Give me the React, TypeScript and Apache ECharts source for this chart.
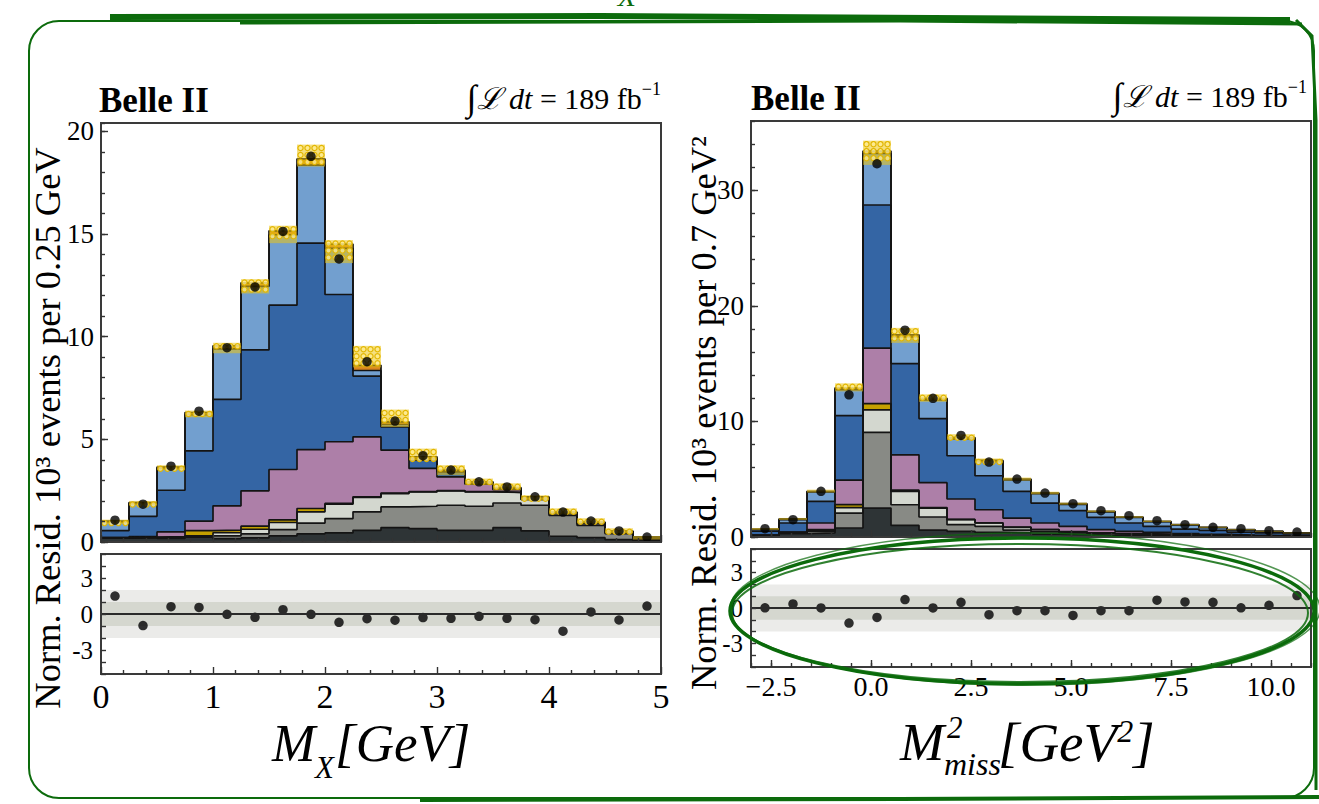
import React, { useEffect, useRef } from 'react';
import * as echarts from 'echarts';

const SERIF = '"Liberation Serif", "DejaVu Serif", "Times New Roman", serif';
const GREEN = '#0c6b0c';

// ---------- Left panel: M_X, 20 bins of 0.25 GeV ----------
const LEFT_EDGES = [0, 0.25, 0.5, 0.75, 1, 1.25, 1.5, 1.75, 2, 2.25, 2.5, 2.75, 3, 3.25, 3.5, 3.75, 4, 4.25, 4.5, 4.75, 5];
// cumulative upper edges of each stacked component (bottom -> top)
const LEFT_CHARCOAL = [0.2, 0.22, 0.18, 0.24, 0.16, 0.2, 0.3, 0.4, 0.44, 0.57, 0.7, 0.65, 0.57, 0.57, 0.7, 0.54, 0.28, 0.21, 0.12, 0.05];
const LEFT_GRAY = [0.2, 0.22, 0.2, 0.26, 0.3, 0.4, 0.6, 0.92, 1.14, 1.47, 1.71, 1.74, 1.79, 1.74, 1.9, 1.79, 1.3, 0.81, 0.41, 0.13];
const LEFT_LGRAY = [0.2, 0.22, 0.22, 0.3, 0.45, 0.62, 0.95, 1.47, 1.84, 2.17, 2.36, 2.44, 2.49, 2.44, 2.41, 2.07, 1.38, 0.9, 0.48, 0.2];
const LEFT_GOLD = [0.21, 0.24, 0.26, 0.55, 0.58, 0.77, 1.08, 1.63, 1.88, 2.2, 2.38, 2.45, 2.5, 2.45, 2.42, 2.08, 1.39, 0.9, 0.48, 0.2];
const LEFT_PINK = [0.21, 0.26, 0.49, 1.02, 1.76, 2.49, 3.53, 4.5, 4.88, 5.12, 4.47, 3.58, 3.17, 2.82, 2.55, 2.12, 1.4, 0.91, 0.49, 0.21];
const LEFT_DBLUE = [0.55, 1.25, 2.52, 4.44, 6.94, 9.35, 11.53, 14.55, 12.05, 8.08, 5.6, 3.98, 3.41, 2.85, 2.57, 2.13, 1.41, 0.92, 0.5, 0.22];
const LEFT_LBLUE = [0.98, 1.87, 3.58, 6.2, 9.4, 12.45, 14.95, 18.35, 14.3, 8.35, 5.72, 4.05, 3.45, 2.88, 2.6, 2.15, 1.43, 0.94, 0.51, 0.23];
const LEFT_TOP = [1.02, 1.92, 3.65, 6.3, 9.55, 12.62, 15.15, 18.65, 14.5, 8.6, 5.85, 4.15, 3.5, 2.93, 2.65, 2.2, 1.46, 0.97, 0.53, 0.24];
const LEFT_BAND_LO = [0.9, 1.79, 3.5, 6.07, 9.19, 12.1, 14.55, 18.28, 13.58, 8.5, 5.6, 3.98, 3.25, 2.77, 2.52, 2.03, 1.35, 0.91, 0.42, 0.12];
const LEFT_BAND_HI = [1.09, 2.0, 3.74, 6.4, 9.7, 12.8, 15.4, 19.35, 14.7, 9.55, 6.45, 4.55, 3.74, 3.09, 2.86, 2.28, 1.64, 1.16, 0.67, 0.29];
const LEFT_DATA = [1.06, 1.84, 3.69, 6.37, 9.46, 12.42, 15.12, 18.78, 13.78, 8.78, 5.89, 4.2, 3.5, 2.93, 2.68, 2.2, 1.46, 1.02, 0.54, 0.24];
const LEFT_RESID = [1.49, -0.96, 0.61, 0.55, -0.03, -0.28, 0.36, -0.03, -0.69, -0.39, -0.52, -0.3, -0.36, -0.19, -0.36, -0.47, -1.43, 0.17, -0.5, 0.66];

// ---------- Right panel: M_miss^2, 20 bins of 0.7 GeV^2 ----------
const RIGHT_EDGES = [-3, -2.3, -1.6, -0.9, -0.2, 0.5, 1.2, 1.9, 2.6, 3.3, 4.0, 4.7, 5.4, 6.1, 6.8, 7.5, 8.2, 8.9, 9.6, 10.3, 11.0];
const RIGHT_CHARCOAL = [0.1, 0.3, 0.35, 0.78, 2.5, 1.0, 0.6, 0.49, 0.4, 0.35, 0.25, 0.2, 0.15, 0.12, 0.1, 0.08, 0.06, 0.05, 0.04, 0.03];
const RIGHT_GRAY = [0.12, 0.35, 0.5, 2.07, 9.05, 2.79, 1.73, 1.07, 0.92, 0.6, 0.45, 0.35, 0.28, 0.22, 0.18, 0.14, 0.1, 0.08, 0.06, 0.05];
const RIGHT_LGRAY = [0.14, 0.38, 0.58, 2.55, 11.0, 3.94, 2.5, 1.5, 1.21, 0.84, 0.63, 0.45, 0.35, 0.28, 0.22, 0.18, 0.14, 0.1, 0.08, 0.06];
const RIGHT_GOLD = [0.15, 0.4, 0.63, 2.8, 11.55, 4.05, 2.55, 1.52, 1.22, 0.85, 0.64, 0.46, 0.36, 0.29, 0.23, 0.19, 0.15, 0.11, 0.09, 0.07];
const RIGHT_PINK = [0.17, 0.42, 1.21, 4.93, 16.34, 7.11, 4.7, 3.29, 2.36, 1.64, 1.21, 0.92, 0.63, 0.49, 0.4, 0.3, 0.22, 0.17, 0.13, 0.1];
const RIGHT_DBLUE = [0.5, 1.21, 3.08, 10.5, 28.73, 15.0, 10.25, 7.03, 5.3, 3.95, 2.94, 2.28, 1.7, 1.21, 0.92, 0.69, 0.58, 0.43, 0.35, 0.26];
const RIGHT_LBLUE = [0.65, 1.5, 3.9, 12.75, 33.2, 17.3, 11.87, 8.5, 6.55, 4.95, 3.75, 2.83, 2.18, 1.7, 1.32, 1.04, 0.82, 0.61, 0.48, 0.34];
const RIGHT_TOP = [0.69, 1.56, 3.95, 12.9, 33.4, 17.5, 12.0, 8.6, 6.63, 5.01, 3.8, 2.88, 2.22, 1.73, 1.35, 1.07, 0.84, 0.63, 0.49, 0.35];
const RIGHT_BAND_LO = [0.62, 1.48, 3.85, 12.6, 32.2, 16.8, 11.7, 8.4, 6.45, 4.88, 3.7, 2.8, 2.15, 1.67, 1.3, 1.02, 0.8, 0.6, 0.46, 0.32];
const RIGHT_BAND_HI = [0.78, 1.65, 4.1, 13.3, 34.3, 18.1, 12.35, 8.9, 6.8, 5.15, 3.92, 2.97, 2.3, 1.8, 1.42, 1.12, 0.89, 0.67, 0.53, 0.38];
const RIGHT_DATA = [0.72, 1.5, 3.95, 12.3, 32.3, 17.9, 12.0, 8.79, 6.48, 5.01, 3.8, 2.88, 2.28, 1.84, 1.41, 1.07, 0.84, 0.72, 0.55, 0.43];
const RIGHT_RESID = [0.02, 0.34, 0.01, -1.28, -0.8, 0.71, 0.01, 0.48, -0.57, -0.23, -0.23, -0.63, -0.23, -0.23, 0.66, 0.51, 0.48, 0.02, 0.23, 1.05];

// tick labels
const LEFT_TOP_YTICKS = [0, 5, 10, 15, 20];
const RIGHT_TOP_YTICKS = [0, 10, 20, 30];
const RESID_YTICKS = [-3, 0, 3];
const RIGHT_XTICKS = [-2.5, 0, 2.5, 5, 7.5, 10];
const RESID_BANDS = [2, 1];
const RESID_BAND_COLORS = ['#ebebe9', '#d5d7cf'];

// component names (draw order: top of stack first)
const LAYER_NAMES = ['Other', 'Component 1', 'Component 2', 'Component 3', 'Component 4', 'Component 5', 'Component 6', 'Component 7'];
const LAYER_COLORS = ['#d9861e', '#729fcf', '#3465a4', '#ad7fa8', '#c4a000', '#d3d7cf', '#888a85', '#2e3436'];

function stepData(edges: number[], tops: number[]) {
  return edges.map((e, i) => [e, tops[Math.min(i, tops.length - 1)]]);
}
function centers(edges: number[]) {
  return edges.slice(0, -1).map((e, i) => (e + edges[i + 1]) / 2);
}

function hatchRender(params: any, api: any) {
  const x0 = api.value(0), x1 = api.value(1), lo = api.value(2), hi = api.value(3);
  const a = api.coord([x0, hi]);
  const b = api.coord([x1, lo]);
  const w = b[0] - a[0], h = b[1] - a[1];
  const children: any[] = [
    { type: 'rect', shape: { x: a[0], y: a[1], width: w, height: h }, style: { fill: 'rgba(236,196,20,0.55)' } },
  ];
  const step = 7;
  for (let cy = a[1] + step / 2; cy <= a[1] + h; cy += step) {
    for (let cx = a[0] + step / 2; cx < a[0] + w; cx += step) {
      children.push({ type: 'circle', shape: { cx, cy, r: 2.6 }, style: { fill: 'rgba(255,238,150,0.75)', stroke: '#e2b600', lineWidth: 1.2 } });
    }
  }
  return { type: 'group', children };
}

function panelSeries(edges: number[], layers: number[][], lo: number[], hi: number[], data: number[], resid: number[], xTop: number, yTop: number, xRes: number, yRes: number) {
  const series: any[] = [];
  layers.forEach((tops, li) => {
    series.push({
      type: 'line', name: LAYER_NAMES[li], xAxisIndex: xTop, yAxisIndex: yTop,
      data: stepData(edges, tops), step: 'end', symbol: 'none', silent: true, z: 2,
      lineStyle: { color: '#141414', width: 1.7 },
      areaStyle: { color: LAYER_COLORS[li], opacity: 1 },
    });
  });
  series.push({
    type: 'custom', name: 'Uncertainty', xAxisIndex: xTop, yAxisIndex: yTop, silent: true, z: 3, clip: true,
    encode: { x: [0, 1], y: [2, 3] },
    data: edges.slice(0, -1).map((e, i) => [e, edges[i + 1], lo[i], hi[i]]),
    renderItem: hatchRender,
  });
  const c = centers(edges);
  series.push({
    type: 'scatter', name: 'Data', xAxisIndex: xTop, yAxisIndex: yTop, z: 4, silent: true,
    symbol: 'circle', symbolSize: 9.5, itemStyle: { color: '#000' },
    data: c.map((x, i) => [x, data[i]]),
  });
  series.push({
    type: 'custom', name: 'Bands', xAxisIndex: xRes, yAxisIndex: yRes, silent: true, z: 1,
    data: RESID_BANDS.map((s) => [edges[0], s]),
    renderItem: (params: any, api: any) => {
      const s = api.value(1);
      const cs = params.coordSys;
      const yt = api.coord([edges[0], s])[1];
      const yb = api.coord([edges[0], -s])[1];
      return { type: 'rect', shape: { x: cs.x, y: yt, width: cs.width, height: yb - yt }, style: { fill: RESID_BAND_COLORS[params.dataIndex] } };
    },
  });
  series.push({
    type: 'scatter', name: 'Residual', xAxisIndex: xRes, yAxisIndex: yRes, z: 4, silent: true,
    symbol: 'circle', symbolSize: 9.5, itemStyle: { color: '#000' },
    data: c.map((x, i) => [x, resid[i]]),
    markLine: {
      silent: true, symbol: ['none', 'none'], label: { show: false },
      lineStyle: { color: '#2a2a2a', width: 2, type: 'solid' },
      data: [{ yAxis: 0 }],
    },
  });
  return series;
}

const tickStyle = { color: '#333', width: 1.4 };
function baseAxis(extra: any) {
  return {
    type: 'value',
    axisLine: { show: false, onZero: false },
    splitLine: { show: false },
    z: 11,
    ...extra,
  };
}

function buildOption() {
  const leftLayers = [LEFT_TOP, LEFT_LBLUE, LEFT_DBLUE, LEFT_PINK, LEFT_GOLD, LEFT_LGRAY, LEFT_GRAY, LEFT_CHARCOAL];
  const rightLayers = [RIGHT_TOP, RIGHT_LBLUE, RIGHT_DBLUE, RIGHT_PINK, RIGHT_GOLD, RIGHT_LGRAY, RIGHT_GRAY, RIGHT_CHARCOAL];
  const gridStyle = { show: true, borderColor: '#3a3a3a', borderWidth: 2, backgroundColor: 'transparent', z: 10 };
  const rightFmt = (v: number) => (v < 0 ? '\u2212' + (-v).toFixed(1) : v.toFixed(1));

  const texts: any[] = [];
  const t = (x: number, y: number, text: string, style: any, extra: any = {}) =>
    texts.push({ type: 'text', x, y, z: 50, ...extra, style: { text, fill: '#000', fontFamily: SERIF, verticalAlign: 'middle', ...style } });

  // headers
  t(99, 100, 'Belle II', { fontSize: 35, fontWeight: 'bold' });
  t(751, 98, 'Belle II', { fontSize: 35, fontWeight: 'bold' });
  const lumiRich = {
    i: { fontSize: 36, fontFamily: SERIF, fill: '#000' },
    a: { fontSize: 30, fontFamily: SERIF, fill: '#000' },
    b: { fontSize: 30, fontFamily: SERIF, fontStyle: 'italic', fill: '#000' },
    c: { fontSize: 18, fontFamily: SERIF, fill: '#000', verticalAlign: 'top' },
  };
  t(661, 98, '{i|∫}{b|ℒ dt}{a| = 189 fb}{c|−1}', { align: 'right', rich: lumiRich });
  t(1307, 96, '{i|∫}{b|ℒ dt}{a| = 189 fb}{c|−1}', { align: 'right', rich: lumiRich });

  // y-axis titles
  t(47, 428, 'Norm. Resid. 10³ events per 0.25 GeV', { fontSize: 36.5, align: 'center' }, { rotation: Math.PI / 2 });
  t(703, 413, 'Norm. Resid. 10³ events per 0.7 GeV²', { fontSize: 36.5, align: 'center' }, { rotation: Math.PI / 2 });

  // x-axis titles
  const it = { fontStyle: 'italic' };
  t(272, 743, 'M', { fontSize: 52, ...it });
  t(315, 767, 'X', { fontSize: 31, ...it });
  t(335, 743, '[GeV]', { fontSize: 53, ...it });
  t(900, 742, 'M', { fontSize: 53, ...it });
  t(947, 727, '2', { fontSize: 31, ...it });
  t(944, 764, 'miss', { fontSize: 32, ...it });
  t(998, 742, '{m|[GeV}{s|2}{m|]}', {
    rich: {
      m: { fontSize: 55, fontStyle: 'italic', fontFamily: SERIF, fill: '#000' },
      s: { fontSize: 32, fontStyle: 'italic', fontFamily: SERIF, fill: '#000', verticalAlign: 'top' },
    },
  });

  // green hand-drawn annotations
  const g = (el: any) => texts.push({ z: 60, ...el });
  g({ type: 'text', x: 627, y: -5, style: { text: 'X', fontSize: 30, fontStyle: 'italic', fontFamily: SERIF, fill: GREEN, align: 'center', verticalAlign: 'middle' } });
  g({ type: 'rect', shape: { x: 29, y: 21, width: 1285, height: 777, r: 30 }, style: { fill: 'none', stroke: GREEN, lineWidth: 2 } });
  g({ type: 'polyline', shape: { points: [[110, 17], [600, 16], [1290, 20]] }, style: { fill: 'none', stroke: GREEN, lineWidth: 6 } });
  g({ type: 'polyline', shape: { points: [[240, 23], [900, 21], [1302, 24]] }, style: { fill: 'none', stroke: GREEN, lineWidth: 3 } });
  g({ type: 'polyline', shape: { points: [[1296, 20], [1312, 36], [1316, 120], [1316, 790]] }, style: { fill: 'none', stroke: GREEN, lineWidth: 3 } });
  g({ type: 'polyline', shape: { points: [[420, 800], [900, 799], [1319, 797]] }, style: { fill: 'none', stroke: GREEN, lineWidth: 4 } });
  g({ type: 'ellipse', shape: { cx: 1022, cy: 611, rx: 292, ry: 73 }, style: { fill: 'none', stroke: GREEN, lineWidth: 3.5 } });
  g({ type: 'ellipse', shape: { cx: 1020, cy: 613, rx: 288, ry: 69 }, style: { fill: 'none', stroke: GREEN, lineWidth: 2, opacity: 0.85 } });
  g({ type: 'ellipse', shape: { cx: 1025, cy: 609, rx: 295, ry: 76 }, style: { fill: 'none', stroke: GREEN, lineWidth: 1.5, opacity: 0.7 } });

  return {
    animation: false,
    backgroundColor: '#fff',
    grid: [
      { left: 101, top: 123, width: 560, height: 419, ...gridStyle },
      { left: 101, top: 554, width: 560, height: 120, ...gridStyle },
      { left: 751, top: 121, width: 560, height: 416, ...gridStyle },
      { left: 751, top: 549, width: 560, height: 118, ...gridStyle },
    ],
    xAxis: [
      baseAxis({ gridIndex: 0, min: 0, max: 5, interval: 1, axisTick: { inside: true, length: 7, lineStyle: tickStyle }, minorTick: { show: true, splitNumber: 5, length: 4, lineStyle: tickStyle }, axisLabel: { show: false } }),
      baseAxis({ gridIndex: 1, min: 0, max: 5, interval: 1, axisTick: { inside: true, length: 7, lineStyle: tickStyle }, minorTick: { show: true, splitNumber: 5, length: 4, lineStyle: tickStyle }, axisLabel: { show: true, fontSize: 34, fontFamily: SERIF, color: '#000', margin: 5 } }),
      baseAxis({ gridIndex: 2, min: -3, max: 11, position: 'bottom', axisTick: { inside: true, length: 7, lineStyle: tickStyle, customValues: RIGHT_XTICKS }, axisLabel: { show: false, customValues: RIGHT_XTICKS } }),
      baseAxis({ gridIndex: 3, min: -3, max: 11, position: 'bottom', axisTick: { inside: true, length: 7, lineStyle: tickStyle, customValues: RIGHT_XTICKS }, axisLabel: { show: true, customValues: RIGHT_XTICKS, formatter: rightFmt, fontSize: 28, fontFamily: SERIF, color: '#000', margin: 5 } }),
      baseAxis({ gridIndex: 2, min: -3, max: 11, interval: 0.5, position: 'bottom', axisTick: { inside: true, length: 4, lineStyle: tickStyle }, axisLabel: { show: false } }),
      baseAxis({ gridIndex: 3, min: -3, max: 11, interval: 0.5, position: 'bottom', axisTick: { inside: true, length: 4, lineStyle: tickStyle }, axisLabel: { show: false } }),
    ],
    yAxis: [
      baseAxis({ gridIndex: 0, min: 0, max: 20.4, position: 'left', axisTick: { inside: true, length: 7, lineStyle: tickStyle, customValues: LEFT_TOP_YTICKS }, axisLabel: { customValues: LEFT_TOP_YTICKS, fontSize: 27, fontFamily: SERIF, color: '#000', margin: 7 } }),
      baseAxis({ gridIndex: 0, min: 0, max: 20.4, interval: 1, position: 'left', axisTick: { inside: true, length: 4, lineStyle: tickStyle }, axisLabel: { show: false } }),
      baseAxis({ gridIndex: 1, min: -5, max: 5, interval: 1, position: 'left', axisTick: { inside: true, length: 5, lineStyle: tickStyle }, axisLabel: { customValues: RESID_YTICKS, fontSize: 25, fontFamily: SERIF, color: '#000', margin: 8 } }),
      baseAxis({ gridIndex: 2, min: 0, max: 36, position: 'left', axisTick: { inside: true, length: 7, lineStyle: tickStyle, customValues: RIGHT_TOP_YTICKS }, axisLabel: { customValues: RIGHT_TOP_YTICKS, fontSize: 27, fontFamily: SERIF, color: '#000', margin: 7 } }),
      baseAxis({ gridIndex: 2, min: 0, max: 36, interval: 2, position: 'left', axisTick: { inside: true, length: 4, lineStyle: tickStyle }, axisLabel: { show: false } }),
      baseAxis({ gridIndex: 3, min: -5, max: 5, interval: 1, position: 'left', axisTick: { inside: true, length: 5, lineStyle: tickStyle }, axisLabel: { customValues: RESID_YTICKS, fontSize: 25, fontFamily: SERIF, color: '#000', margin: 8 } }),
    ],
    series: [
      ...panelSeries(LEFT_EDGES, leftLayers, LEFT_BAND_LO, LEFT_BAND_HI, LEFT_DATA, LEFT_RESID, 0, 0, 1, 2),
      ...panelSeries(RIGHT_EDGES, rightLayers, RIGHT_BAND_LO, RIGHT_BAND_HI, RIGHT_DATA, RIGHT_RESID, 2, 3, 3, 5),
    ],
    graphic: { elements: texts },
  };
}

export default function App() {
  const ref = useRef<HTMLDivElement>(null);
  useEffect(() => {
    if (!ref.current) return;
    const chart = echarts.init(ref.current, null, { renderer: 'svg' });
    chart.setOption(buildOption() as any);
    return () => chart.dispose();
  }, []);
  return <div ref={ref} style={{ position: 'absolute', left: 0, top: 0, width: 1319, height: 804, background: '#fff' }} />;
}
